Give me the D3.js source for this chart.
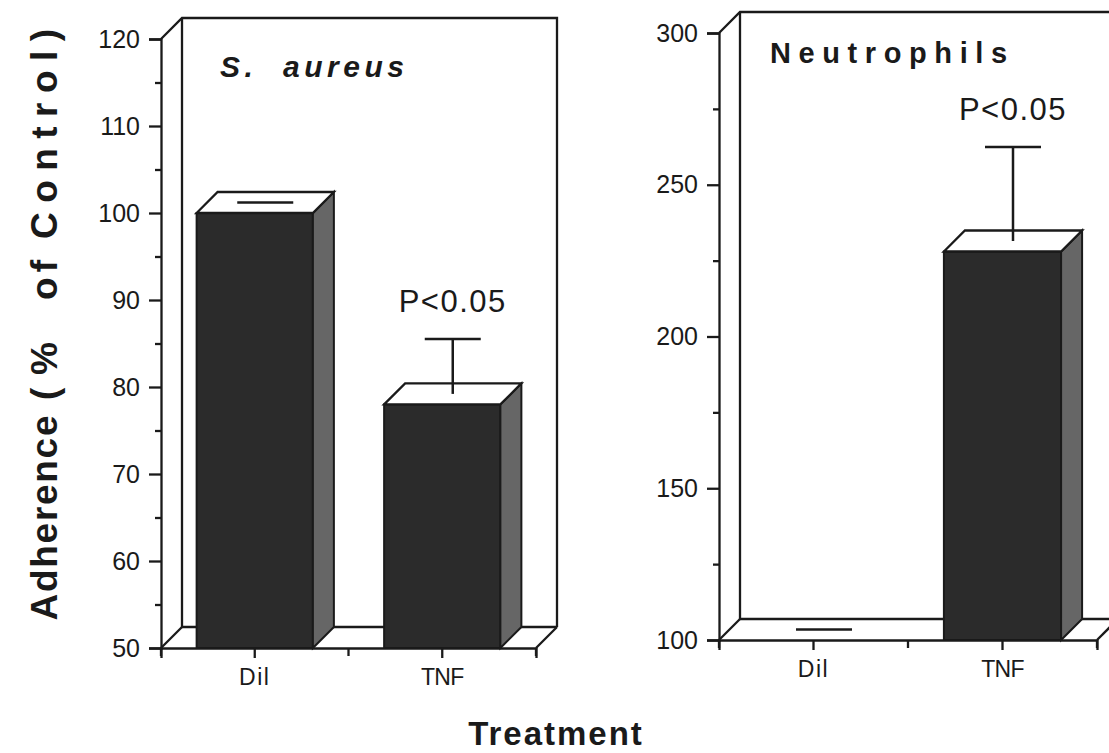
<!DOCTYPE html>
<html>
<head>
<meta charset="utf-8">
<script src="https://cdn.jsdelivr.net/npm/d3@7"></script>
<style>
  html, body { margin: 0; padding: 0; background: #fff; }
  svg { display: block; }
  text { font-family: "Liberation Sans", Arial, Helvetica, sans-serif; fill: #1a1a1a; }
</style>
</head>
<body>
<svg id="chart" width="1109" height="753"></svg>
<script>
// Treatment groups shared by both panels
const categories = ["Dil", "TNF"];

// S. aureus adherence (% of control), mean and SEM
const aureusMeans = [100, 78];
const aureusErrors = [0, 6.3];
const aureusTicks = [50, 60, 70, 80, 90, 100, 110, 120];
const aureusMinorTicks = [55, 65, 75, 85, 95, 105, 115];

// Neutrophil adherence (% of control), mean and SEM
const neutrophilMeans = [100, 228];
const neutrophilErrors = [0, 31];
const neutrophilTicks = [100, 150, 200, 250, 300];
const neutrophilMinorTicks = [125, 175, 225, 275];

// Significance note placed above each bar
const significance = ["", "P<0.05"];

const svg = d3.select("#chart");
const INK = "#1a1a1a";
const DEPTH_X = 21, DEPTH_Y = 21;

function drawPanel(cfg) {
  const g = svg.append("g");
  const y = d3.scaleLinear().domain(cfg.domain).range([cfg.bottom, cfg.top]);
  const x = d3.scaleBand().domain(categories).range([cfg.left, cfg.right]).paddingInner(0).paddingOuter(0);
  const yBase = y(cfg.domain[0]);
  const yTop = y(cfg.domain[1]);

  // back wall and floor (3D frame)
  const frame = g.append("g").attr("fill", "none").attr("stroke", INK).attr("stroke-width", 2.3);
  frame.append("path").attr("d", d3.line()([
    [cfg.left, yTop], [cfg.left + DEPTH_X, yTop - DEPTH_Y],
    [cfg.right + DEPTH_X, yTop - DEPTH_Y], [cfg.right + DEPTH_X, yBase - DEPTH_Y]
  ]));
  frame.append("path").attr("d", d3.line()([
    [cfg.left + DEPTH_X, yTop - DEPTH_Y], [cfg.left + DEPTH_X, yBase - DEPTH_Y],
    [cfg.right + DEPTH_X, yBase - DEPTH_Y]
  ]));
  frame.append("path").attr("d", d3.line()([
    [cfg.left, yBase], [cfg.left + DEPTH_X, yBase - DEPTH_Y]
  ]));
  frame.append("path").attr("d", d3.line()([
    [cfg.right, yBase], [cfg.right + DEPTH_X, yBase - DEPTH_Y]
  ]));

  // bars
  const barW = x.bandwidth() * 0.62;
  const bars = g.append("g");
  categories.forEach((c, i) => {
    const v = cfg.means[i];
    const x0 = x(c) + (x.bandwidth() - barW) / 2;
    const yv = y(v);
    if (yBase - yv > 0.5) {
      bars.append("rect")
        .attr("x", x0).attr("y", yv).attr("width", barW).attr("height", yBase - yv)
        .attr("fill", "#2b2b2b").attr("stroke", INK).attr("stroke-width", 2);
      bars.append("path")
        .attr("d", d3.line()([[x0 + barW, yv], [x0 + barW + DEPTH_X, yv - DEPTH_Y],
          [x0 + barW + DEPTH_X, yBase - DEPTH_Y], [x0 + barW, yBase]]) + "Z")
        .attr("fill", "#666").attr("stroke", INK).attr("stroke-width", 2);
      bars.append("path")
        .attr("d", d3.line()([[x0, yv], [x0 + DEPTH_X, yv - DEPTH_Y],
          [x0 + barW + DEPTH_X, yv - DEPTH_Y], [x0 + barW, yv]]) + "Z")
        .attr("fill", "#fff").attr("stroke", INK).attr("stroke-width", 2.3);
    }
    // error bar from the middle of the top face
    const cx = x0 + barW / 2 + DEPTH_X / 2;
    const y1 = yv - DEPTH_Y / 2;
    const y2 = y(v + cfg.errors[i]) - DEPTH_Y / 2;
    bars.append("line").attr("x1", cx).attr("x2", cx).attr("y1", y1).attr("y2", y2)
      .attr("stroke", INK).attr("stroke-width", 2.5);
    bars.append("line").attr("x1", cx - 28).attr("x2", cx + 28).attr("y1", y2).attr("y2", y2)
      .attr("stroke", INK).attr("stroke-width", 2.5);
    if (significance[i]) {
      g.append("text").attr("x", cx).attr("y", y2 - 27)
        .attr("text-anchor", "middle").attr("font-size", 31)
        .attr("letter-spacing", 1.5).text(significance[i]);
    }
  });

  // front floor edge and x axis ticks
  const xAxis = d3.axisBottom(x).tickSize(10).tickPadding(11);
  const xg = g.append("g").attr("transform", `translate(0,${yBase})`).call(xAxis);
  xg.select(".domain").attr("stroke", INK).attr("stroke-width", 2.3);
  xg.selectAll(".tick line").attr("stroke", INK).attr("stroke-width", 2.3);
  xg.selectAll(".tick text").attr("font-size", 23).attr("fill", INK)
    .attr("font-family", "Liberation Sans, Arial, sans-serif")
    .attr("letter-spacing", d => d === "Dil" ? 1.5 : -0.8);
  const edges = d3.range(categories.length + 1).map(k => cfg.left + k * x.step());
  xg.selectAll(".edge").data(edges).enter().append("line")
    .attr("x1", d => d).attr("x2", d => d).attr("y1", 0).attr("y2", 8)
    .attr("stroke", INK).attr("stroke-width", 2.3);

  // y axis
  const yAxis = d3.axisLeft(y).tickValues(cfg.ticks).tickSize(12).tickPadding(9).tickFormat(d3.format("d"));
  const yg = g.append("g").attr("transform", `translate(${cfg.left},0)`).call(yAxis);
  yg.select(".domain").attr("stroke", INK).attr("stroke-width", 2.3);
  yg.selectAll(".tick line").attr("stroke", INK).attr("stroke-width", 2.3);
  yg.selectAll(".tick text").attr("font-size", 25).attr("fill", INK)
    .attr("font-family", "Liberation Sans, Arial, sans-serif").attr("letter-spacing", 0);
  const yMinor = d3.axisLeft(y).tickValues(cfg.minor).tickSize(6).tickFormat("");
  const ym = g.append("g").attr("transform", `translate(${cfg.left},0)`).call(yMinor);
  ym.select(".domain").remove();
  ym.selectAll(".tick line").attr("stroke", INK).attr("stroke-width", 2.3);

  // panel title
  const t = g.append("text").attr("x", cfg.titleX).attr("y", cfg.titleY)
    .attr("font-weight", "bold").attr("font-size", cfg.titleSize)
    .attr("letter-spacing", cfg.titleSpacing).attr("xml:space", "preserve");
  if (cfg.titleItalic) t.attr("font-style", "italic");
  t.text(cfg.title);
}

drawPanel({
  domain: [50, 120], top: 39, bottom: 648, left: 161, right: 536,
  means: aureusMeans, errors: aureusErrors, ticks: aureusTicks, minor: aureusMinorTicks,
  title: "S.  aureus", titleX: 220, titleY: 77, titleSize: 30, titleSpacing: 4.5, titleItalic: true
});

drawPanel({
  domain: [100, 300], top: 33, bottom: 640, left: 719, right: 1097,
  means: neutrophilMeans, errors: neutrophilErrors, ticks: neutrophilTicks, minor: neutrophilMinorTicks,
  title: "Neutrophils", titleX: 770, titleY: 63, titleSize: 29, titleSpacing: 7.6, titleItalic: false
});

// shared y-axis title, one word at a time
const yTitleWords = [
  { text: "Adherence", center: 518, length: 205 },
  { text: "(%", center: 371, length: 58 },
  { text: "of", center: 280, length: 40 },
  { text: "Control)", center: 134, length: 210 }
];
yTitleWords.forEach(w => {
  svg.append("text")
    .attr("transform", `translate(57,${w.center}) rotate(-90)`)
    .attr("text-anchor", "middle").attr("font-weight", "bold").attr("font-size", 37)
    .attr("textLength", w.length).attr("lengthAdjust", "spacing")
    .text(w.text);
});

// shared x-axis title
svg.append("text").attr("x", 556).attr("y", 745)
  .attr("text-anchor", "middle").attr("font-weight", "bold").attr("font-size", 33)
  .attr("letter-spacing", 2).text("Treatment");
</script>
</body>
</html>
